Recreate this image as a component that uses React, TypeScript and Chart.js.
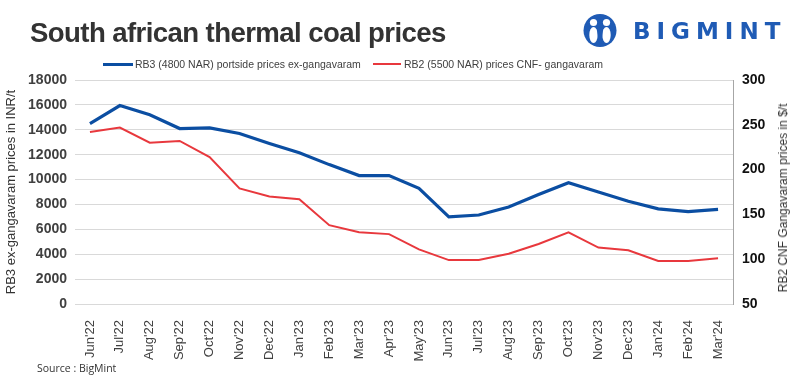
import React, { useEffect, useRef } from "react";
import { Chart, registerables } from "chart.js";

Chart.register(...registerables);

const months = [
  "Jun'22", "Jul'22", "Aug'22", "Sep'22", "Oct'22", "Nov'22", "Dec'22", "Jan'23",
  "Feb'23", "Mar'23", "Apr'23", "May'23", "Jun'23", "Jul'23", "Aug'23", "Sep'23",
  "Oct'23", "Nov'23", "Dec'23", "Jan'24", "Feb'24", "Mar'24",
];

const rb3Inr = [
  14500, 15950, 15200, 14100, 14150, 13700, 12900, 12150, 11200, 10320, 10320,
  9300, 7000, 7150, 7800, 8800, 9750, 9000, 8250, 7650, 7420, 7600,
];

const rb2Usd = [
  242, 247, 230, 232, 214, 179, 170, 167, 138, 130, 128, 111, 99, 99, 106, 117,
  130, 113, 110, 98, 98, 101,
];

const seriesNames = [
  "RB3 (4800 NAR) portside prices ex-gangavaram",
  "RB2 (5500 NAR) prices CNF- gangavaram",
];

const BLUE = "#0b4ea2";
const RED = "#e8383d";
const BASE_FONT = "'Liberation Sans', Arial, sans-serif";

export default function App() {
  const canvasRef = useRef<HTMLCanvasElement | null>(null);

  useEffect(() => {
    if (!canvasRef.current) return;
    const chart = new Chart(canvasRef.current, {
      type: "line",
      data: {
        labels: months,
        datasets: [
          {
            label: seriesNames[0],
            data: rb3Inr,
            borderColor: BLUE,
            backgroundColor: BLUE,
            borderWidth: 3.2,
            pointRadius: 0,
            tension: 0,
            yAxisID: "y",
          },
          {
            label: seriesNames[1],
            data: rb2Usd,
            borderColor: RED,
            backgroundColor: RED,
            borderWidth: 2,
            pointRadius: 0,
            tension: 0,
            yAxisID: "y1",
          },
        ],
      },
      options: {
        responsive: false,
        maintainAspectRatio: false,
        animation: false,
        devicePixelRatio: 1,
        layout: { padding: { top: 80, left: 0, right: 0, bottom: 0 } },
        plugins: {
          legend: { display: false },
          title: { display: false },
          tooltip: { enabled: false },
        },
        scales: {
          x: {
            offset: true,
            grid: { display: false },
            border: { display: false },
            ticks: {
              autoSkip: false,
              minRotation: 90,
              maxRotation: 90,
              padding: 8,
              color: "#404040",
              font: { family: BASE_FONT, size: 13 },
            },
            afterFit: (s: any) => {
              s.height = 72;
            },
          },
          y: {
            position: "left",
            min: 0,
            max: 18000,
            ticks: {
              stepSize: 2000,
              padding: 8,
              color: "#404040",
              font: { family: BASE_FONT, size: 14, weight: "bold" },
              callback: (v: any) => String(v),
            },
            grid: { color: "#d9d9d9", lineWidth: 1, drawTicks: false },
            border: { display: false },
            title: {
              display: true,
              text: "RB3 ex-gangavaram prices in INR/t",
              color: "#333333",
              font: { family: BASE_FONT, size: 13 },
              padding: { top: 4, bottom: 4 },
            },
            afterFit: (s: any) => {
              s.width = 75;
            },
          },
          y1: {
            position: "right",
            min: 50,
            max: 300,
            ticks: {
              stepSize: 50,
              padding: 9,
              color: "#111111",
              font: { family: BASE_FONT, size: 14, weight: "bold" },
              callback: (v: any) => String(v),
            },
            grid: { display: false, drawTicks: false },
            border: { display: true, color: "#a6a6a6", width: 1 },
            afterFit: (s: any) => {
              s.width = 60;
            },
          },
        },
      },
    });
    return () => chart.destroy();
  }, []);

  return (
    <div
      style={{
        position: "absolute",
        left: 0,
        top: 0,
        width: 793,
        height: 376,
        background: "#ffffff",
        overflow: "hidden",
      }}
    >
      <canvas
        ref={canvasRef}
        width={793}
        height={376}
        style={{ position: "absolute", left: 0, top: 0, width: 793, height: 376 }}
      />
      <div
        style={{
          position: "absolute",
          left: 30,
          top: 18,
          fontFamily: BASE_FONT,
          fontWeight: "bold",
          fontSize: 28,
          lineHeight: "30px",
          color: "#333333",
          whiteSpace: "nowrap",
          letterSpacing: "-0.6px",
          transform: "scaleX(0.985)",
          transformOrigin: "left center",
        }}
      >
        South african thermal coal prices
      </div>
      <svg
        style={{ position: "absolute", left: 583, top: 14 }}
        width={34}
        height={33}
        viewBox="0 0 34 33"
      >
        <circle cx={17} cy={16.5} r={16.5} fill="#1f5bb5" />
        <circle cx={10.5} cy={8.5} r={3.6} fill="#ffffff" />
        <circle cx={23.5} cy={8.5} r={3.6} fill="#ffffff" />
        <ellipse cx={10.5} cy={21} rx={4.2} ry={8} fill="#ffffff" />
        <ellipse cx={23.5} cy={21} rx={4.2} ry={8} fill="#ffffff" />
        <circle cx={17} cy={11} r={2.6} fill="#1f5bb5" />
        <path d="M14 15 L20 15 L18.5 29 L15.5 29 Z" fill="#1f5bb5" />
      </svg>
      <div
        style={{
          position: "absolute",
          left: 633,
          top: 17,
          fontFamily: "'DejaVu Sans', sans-serif",
          fontWeight: "bold",
          fontSize: 23,
          lineHeight: "28px",
          letterSpacing: "6px",
          color: "#1f5bb5",
          whiteSpace: "nowrap",
        }}
      >
        BIGMINT
      </div>
      <div style={{ position: "absolute", left: 103, top: 62.5, width: 30, height: 3, background: BLUE }} />
      <div
        style={{
          position: "absolute",
          left: 135,
          top: 57,
          fontFamily: BASE_FONT,
          fontSize: 10.5,
          lineHeight: "14px",
          color: "#404040",
          whiteSpace: "nowrap",
        }}
      >
        {seriesNames[0]}
      </div>
      <div style={{ position: "absolute", left: 373, top: 63, width: 28, height: 2, background: RED }} />
      <div
        style={{
          position: "absolute",
          left: 404,
          top: 57,
          fontFamily: BASE_FONT,
          fontSize: 10.5,
          lineHeight: "14px",
          color: "#404040",
          whiteSpace: "nowrap",
        }}
      >
        {seriesNames[1]}
      </div>
      <div
        style={{
          position: "absolute",
          left: 783,
          top: 198,
          transform: "translate(-50%, -50%) rotate(-90deg)",
          fontFamily: BASE_FONT,
          fontSize: 12,
          lineHeight: "14px",
          color: "#333333",
          whiteSpace: "nowrap",
        }}
      >
        RB2 CNF Gangavaram prices in $/t
      </div>
      <div
        style={{
          position: "absolute",
          left: 37,
          top: 361,
          fontFamily: "'Open Sans', sans-serif",
          fontSize: 10.5,
          lineHeight: "14px",
          color: "#333333",
          whiteSpace: "nowrap",
        }}
      >
        Source : BigMint
      </div>
    </div>
  );
}
